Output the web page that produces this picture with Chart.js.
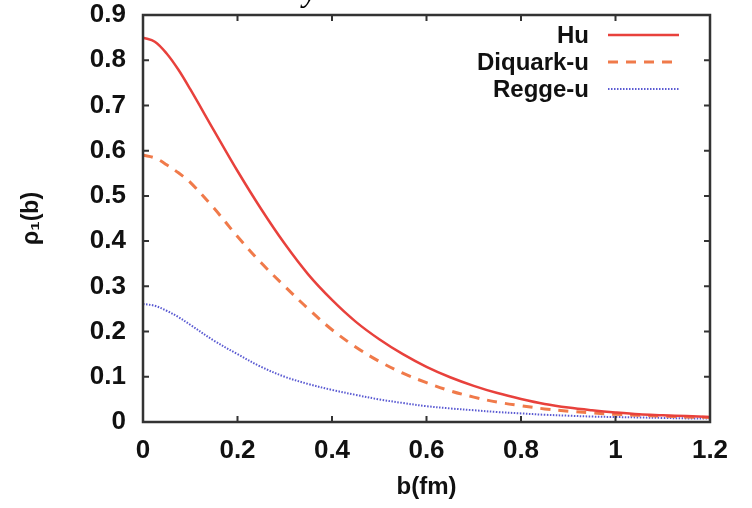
<!DOCTYPE html>
<html>
<head>
<meta charset="utf-8">
<script src="https://cdn.jsdelivr.net/npm/chart.js@4/dist/chart.umd.min.js"></script>
<style>
html,body{margin:0;padding:0;background:#fff;}
#wrap{width:752px;height:508px;position:relative;}
</style>
</head>
<body>
<div id="wrap"><canvas id="c" width="752" height="508"></canvas></div>
<script>
// ---- data ----
const bValues = [0,0.025,0.05,0.075,0.1,0.15,0.2,0.25,0.3,0.35,0.4,0.45,0.5,0.55,0.6,0.65,0.7,0.75,0.8,0.85,0.9,0.95,1.0,1.05,1.1,1.15,1.2];
const huValues = [0.850,0.841,0.815,0.779,0.736,0.645,0.555,0.471,0.394,0.326,0.270,0.222,0.183,0.150,0.122,0.099,0.080,0.064,0.051,0.040,0.032,0.026,0.021,0.017,0.015,0.013,0.011];
const diquarkValues = [0.590,0.584,0.569,0.551,0.530,0.473,0.410,0.352,0.300,0.250,0.204,0.166,0.134,0.108,0.087,0.069,0.055,0.044,0.036,0.029,0.024,0.020,0.017,0.015,0.013,0.011,0.010];
const reggeValues = [0.261,0.257,0.246,0.232,0.215,0.180,0.150,0.122,0.100,0.084,0.071,0.060,0.050,0.042,0.035,0.030,0.026,0.022,0.019,0.016,0.014,0.012,0.011,0.010,0.009,0.008,0.008];
const seriesNames = ['Hu','Diquark-u','Regge-u'];
const xTickValues = [0,0.2,0.4,0.6,0.8,1.0,1.2];
const yTickValues = [0,0.1,0.2,0.3,0.4,0.5,0.6,0.7,0.8,0.9];
const xTitle = 'b(fm)';
const yTitle = 'ρ\u2081(b)';
const titleFragment = 'y';

const toPts = arr => bValues.map((b,i)=>({x:b,y:arr[i]}));
const FONT = '"Liberation Sans", Arial, sans-serif';

const framePlugin = {
  id:'frame',
  afterDatasetsDraw(chart){
    const {ctx, chartArea:a, scales} = chart;
    ctx.save();
    ctx.strokeStyle = '#333';
    ctx.lineWidth = 2;
    ctx.setLineDash([]);
    ctx.beginPath();
    xTickValues.forEach(v=>{
      const px = scales.x.getPixelForValue(v);
      ctx.moveTo(px, a.bottom); ctx.lineTo(px, a.bottom-6);
      ctx.moveTo(px, a.top); ctx.lineTo(px, a.top+6);
    });
    yTickValues.forEach(v=>{
      const py = scales.y.getPixelForValue(v);
      ctx.moveTo(a.left, py); ctx.lineTo(a.left+6, py);
      ctx.moveTo(a.right, py); ctx.lineTo(a.right-6, py);
    });
    ctx.stroke();
    ctx.lineWidth = 2.5;
    ctx.strokeRect(a.left, a.top, a.right-a.left, a.bottom-a.top);
    // legend (text right-aligned, sample line at right)
    const rows = [35, 62, 89];
    ctx.font = 'bold 24px ' + FONT;
    ctx.textAlign = 'right';
    ctx.textBaseline = 'middle';
    chart.data.datasets.forEach((ds,i)=>{
      const y = rows[i];
      ctx.fillStyle = '#111';
      ctx.fillText(ds.label, 589, y+1);
      ctx.strokeStyle = ds.borderColor;
      ctx.lineWidth = ds.borderWidth;
      ctx.setLineDash(ds.borderDash || []);
      ctx.beginPath();
      ctx.moveTo(608, y); ctx.lineTo(679, y);
      ctx.stroke();
    });
    ctx.restore();
  },
  afterDraw(chart){
    const ctx = chart.ctx;
    ctx.save();
    ctx.font = 'italic 32px "Liberation Serif", serif';
    ctx.fillStyle = '#000';
    ctx.textAlign = 'left';
    ctx.textBaseline = 'alphabetic';
    ctx.fillText(titleFragment, 303, 1);
    ctx.restore();
  }
};

new Chart(document.getElementById('c'), {
  type:'line',
  data:{
    datasets:[
      {label:seriesNames[0], data:toPts(huValues), borderColor:'#e8413c', borderWidth:2.5, pointRadius:0, tension:0.35, fill:false},
      {label:seriesNames[1], data:toPts(diquarkValues), borderColor:'#f07a4a', borderWidth:3, borderDash:[10,8], pointRadius:0, tension:0.35, fill:false},
      {label:seriesNames[2], data:toPts(reggeValues), borderColor:'#5a5ad2', borderWidth:2, borderDash:[1.5,1.5], pointRadius:0, tension:0.35, fill:false}
    ]
  },
  options:{
    responsive:false,
    animation:false,
    layout:{padding:{top:15,right:42,left:18,bottom:0}},
    plugins:{legend:{display:false}, tooltip:{enabled:false}},
    scales:{
      x:{
        type:'linear', min:0, max:1.2,
        afterBuildTicks(scale){ scale.ticks = xTickValues.map(v=>({value:v})); },
        afterFit(scale){ scale.height = 86; scale.paddingLeft = 0; scale.paddingRight = 0; },
        grid:{display:false, drawTicks:false},
        border:{display:false},
        ticks:{color:'#111', padding:13, maxRotation:0, font:{family:FONT, size:26, weight:'bold'}, callback:v=>String(Math.round(v*10)/10)},
        title:{display:true, text:xTitle, color:'#111', padding:{top:4,bottom:6}, font:{family:FONT, size:24, weight:'bold'}}
      },
      y:{
        type:'linear', min:0, max:0.9,
        afterBuildTicks(scale){ scale.ticks = yTickValues.map(v=>({value:v})); },
        afterFit(scale){ scale.width = 125; scale.paddingTop = 0; scale.paddingBottom = 0; },
        grid:{display:false, drawTicks:false},
        border:{display:false},
        ticks:{color:'#111', padding:17, font:{family:FONT, size:26, weight:'bold'}, callback:v=>String(Math.round(v*10)/10)},
        title:{display:true, text:yTitle, color:'#111', padding:{top:0,bottom:0}, font:{family:FONT, size:23, weight:'bold'}}
      }
    }
  },
  plugins:[framePlugin]
});
</script>
</body>
</html>
